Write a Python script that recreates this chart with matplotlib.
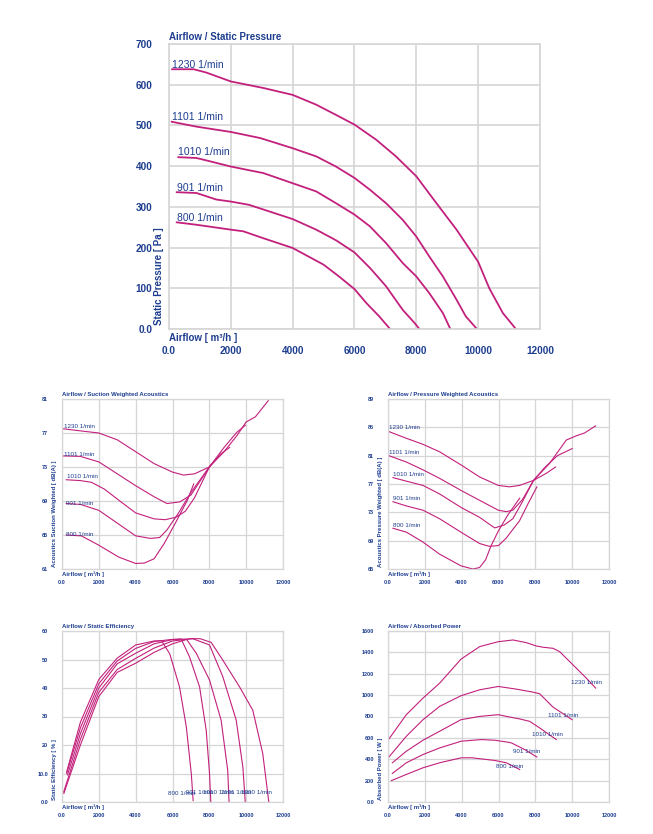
import numpy as np
import matplotlib
matplotlib.use("Agg")
import matplotlib.pyplot as plt

plt.rcParams['font.family'] = ['Liberation Sans', 'DejaVu Sans']

speeds = ['1230 1/min', '1101 1/min', '1010 1/min', '901 1/min', '800 1/min']

# Airflow / Static Pressure
pres_x = [[100, 800, 1200, 2000, 3050, 4000, 4760, 5500, 6000, 6700, 7340, 8000, 8650, 9300, 10000, 10360, 10800, 11220],
          [90, 890, 2000, 2950, 4000, 4760, 5400, 6000, 6500, 7020, 7560, 8000, 8420, 8860, 9300, 9600, 9960],
          [300, 890, 1320, 2000, 3050, 4000, 4760, 5400, 6000, 6500, 7020, 7560, 8000, 8420, 8860, 9100],
          [250, 890, 1530, 2000, 2590, 4000, 4760, 5400, 6000, 6500, 7020, 7560, 7940, 8100],
          [250, 890, 2000, 2400, 3050, 4000, 5000, 5500, 6000, 6380, 6800, 7150]]
pres_y = [[638, 638, 630, 608, 592, 575, 551, 522, 502, 465, 424, 375, 309, 244, 165, 100, 39, 0],
          [509, 497, 484, 469, 444, 424, 399, 371, 342, 309, 268, 227, 178, 129, 72, 31, 0],
          [422, 420, 412, 399, 383, 358, 338, 309, 281, 252, 211, 162, 129, 88, 39, 0],
          [336, 334, 318, 313, 305, 270, 244, 218, 188, 150, 105, 47, 15, 0],
          [262, 256, 244, 240, 223, 199, 158, 129, 98, 64, 31, 0]]
pres_lab_x = [100, 90, 300, 250, 250]
pres_lab_y = [649, 521, 434, 346, 272]

# Airflow / Suction Weighted Acoustics
suc_x = [[50, 1000, 2000, 3000, 4000, 5000, 6000, 6600, 7200, 8000, 8800, 9500, 10000, 10500, 11200],
         [50, 1000, 2000, 3000, 4000, 5000, 5700, 6400, 7000, 8000, 8800, 9500, 9950],
         [230, 1000, 1600, 2300, 3200, 4000, 5000, 5600, 6200, 6700, 7200, 8000, 8600, 9100],
         [230, 1000, 2000, 3000, 4000, 4800, 5300, 5700, 6300, 7000, 7500, 8000, 8100],
         [230, 1050, 2000, 3080, 4000, 4470, 5000, 5550, 6180, 6810, 7150]]
suc_y = [[77.5, 77.25, 77.0, 76.2, 74.8, 73.4, 72.4, 72.05, 72.2, 73.0, 74.8, 76.7, 78.3, 78.9, 80.8],
         [74.3, 74.25, 73.6, 72.2, 70.8, 69.5, 68.7, 68.9, 69.7, 73.0, 75.3, 77.1, 77.9],
         [71.5, 71.4, 71.2, 70.4, 68.9, 67.6, 66.9, 66.8, 67.1, 67.8, 69.4, 73.0, 74.5, 75.3],
         [68.7, 68.6, 67.9, 66.4, 64.9, 64.6, 64.7, 65.6, 67.5, 70.0, 71.5, 73.0, 73.3],
         [65.0, 64.9, 63.8, 62.4, 61.65, 61.7, 62.2, 64.0, 66.5, 69.1, 71.0]]
suc_lab_x = [90, 90, 290, 230, 230]
suc_lab_y = [77.8, 74.5, 71.9, 68.7, 65.0]

# Airflow / Pressure Weighted Acoustics
pwa_x = [[50, 1000, 1900, 2800, 3960, 4970, 5990, 6600, 7140, 7900, 8770, 9680, 10220, 10670, 11270],
         [50, 1000, 1900, 2800, 3960, 4970, 5990, 6420, 6780, 7300, 7900, 8500, 9200, 10000],
         [270, 1000, 1900, 2800, 3960, 4970, 5790, 6300, 6780, 7300, 7900, 8590, 9100],
         [270, 1000, 1900, 2800, 3960, 4970, 5500, 5990, 6400, 7140, 7600, 8085],
         [270, 1000, 1900, 2800, 3960, 4600, 4970, 5300, 5600, 6000, 6500, 7150]]
pwa_y = [[84.4, 83.45, 82.6, 81.55, 79.7, 78.0, 76.8, 76.6, 76.8, 77.5, 79.9, 83.2, 83.8, 84.2, 85.2],
         [81.0, 80.1, 79.0, 77.8, 76.1, 74.7, 73.3, 73.1, 73.3, 74.8, 77.5, 79.3, 81.0, 82.0],
         [77.9, 77.4, 76.8, 75.6, 73.7, 72.3, 70.8, 71.2, 72.1, 74.5, 77.5, 78.5, 79.4],
         [74.5, 73.9, 73.3, 72.1, 70.2, 68.6, 68.2, 68.3, 69.3, 71.8, 74.2, 76.6],
         [70.75, 70.2, 68.8, 67.1, 65.45, 65.0, 65.2, 66.3, 68.3, 70.4, 72.6, 75.0]]
pwa_lab_x = [50, 50, 270, 270, 270]
pwa_lab_y = [85.0, 81.4, 78.3, 75.0, 71.2]

# Airflow / Static Efficiency
eff_x = [[100, 1000, 2000, 3000, 4000, 5000, 6000, 6900, 7500, 8100, 8730, 9640, 10360, 10900, 11230],
         [90, 1000, 2000, 3000, 4000, 5000, 6000, 7100, 8010, 8730, 9460, 9820, 9950],
         [300, 1000, 2000, 3000, 4000, 5000, 6000, 6750, 7290, 8010, 8640, 9000, 9070],
         [250, 1000, 2000, 3000, 4000, 5000, 5900, 6470, 6920, 7470, 7830, 8010, 8080],
         [250, 1000, 2000, 3000, 4000, 5000, 5400, 5850, 6380, 6750, 7020, 7120]]
eff_y = [[3.0, 20, 37, 45.5, 48.7, 52.5, 55.5, 57.3, 57.3, 56, 49.8, 40.4, 32.2, 17, 0],
         [3.5, 22, 38.5, 46.5, 50.4, 54, 56.5, 57.3, 55.1, 44, 28.7, 12.3, 0],
         [9.5, 24, 40, 48.5, 52.2, 55.5, 57.0, 57.2, 52.2, 42.8, 28.7, 11, 0],
         [10, 26, 41.5, 49.5, 53.9, 56.3, 57.0, 57.2, 51, 40.4, 25.2, 10, 0],
         [10.5, 28, 43, 50.5, 55.1, 56.5, 56.6, 52, 40.4, 26.4, 10, 0.5]]
eff_lab_x = [9735, 8650, 7650, 6750, 5735]
eff_lab_y = [3.3, 3.3, 3.3, 3.3, 3.0]

# Airflow / Absorbed Power
pow_x = [[54, 540, 995, 1900, 2805, 3960, 4980, 5990, 6790, 7510, 8050, 8420, 8960, 9320, 10045, 10770, 11275],
         [54, 995, 1900, 2805, 3960, 4980, 5990, 6970, 7870, 8235, 8960, 10000],
         [235, 995, 1900, 2805, 3960, 4980, 5990, 6610, 7150, 7690, 8235, 9140],
         [235, 995, 1900, 2805, 3980, 5070, 5790, 6430, 6700, 7420, 8080],
         [185, 995, 1900, 2805, 3960, 4530, 5790, 6425, 7150]]
pow_y = [[590, 708, 817, 972, 1112, 1336, 1454, 1500, 1516, 1491, 1460, 1448, 1438, 1407, 1283, 1159, 1066],
         [422, 615, 770, 895, 994, 1050, 1081, 1056, 1028, 1013, 888, 770],
         [367, 475, 578, 662, 770, 801, 817, 795, 777, 755, 693, 584],
         [267, 367, 444, 506, 569, 584, 578, 562, 553, 491, 421],
         [200, 258, 320, 367, 413, 414, 389, 367, 304]]
pow_lab_x = [9955, 8688, 7837, 6787, 5846]
pow_lab_y = [1118, 811, 631, 469, 335]

x_ticks = [0, 2000, 4000, 6000, 8000, 10000, 12000]
x_ticklabels = ['0.0', '2000', '4000', '6000', '8000', '10000', '12000']

BLUE = '#1d3d8f'
LINE = '#c2207c'
GRID = '#d6d6d6'

fig = plt.figure(figsize=(6.53, 8.34), dpi=100)


def setup(ax, title, ylabel, yticks, yticklabels, big=False):
    fs_tick = 7.2 if big else 4.0
    fs_title = 7.0 if big else 4.3
    pad = 12 if big else 8
    ax.set_xlim(0, 12000)
    ax.set_ylim(yticks[0], yticks[-1])
    ax.set_xticks(x_ticks)
    ax.set_xticklabels(x_ticklabels)
    ax.set_yticks(yticks)
    ax.set_yticklabels(yticklabels)
    ax.tick_params(length=0, labelsize=fs_tick, labelcolor=BLUE, pad=pad)
    ax.tick_params(axis='y', pad=pad + (0 if big else 2))
    for t in ax.get_xticklabels() + ax.get_yticklabels():
        t.set_fontweight('bold')
    ax.grid(True, color=GRID, lw=1.2 if big else 0.9)
    ax.set_axisbelow(True)
    for s in ax.spines.values():
        s.set_color(GRID)
        s.set_linewidth(1.2 if big else 0.9)
    ax.text(0, 1.025, title, transform=ax.transAxes, fontsize=fs_title,
            fontweight='bold', color=BLUE, ha='left', va='center')
    ax.text(0, -0.032, 'Airflow [ m³/h ]', transform=ax.transAxes, fontsize=fs_title,
            fontweight='bold', color=BLUE, ha='left', va='center')
    ax.text(-0.026 if big else -0.034, 0.014, ylabel, transform=ax.transAxes,
            fontsize=fs_title, fontweight='bold', color=BLUE, rotation=90,
            ha='center', va='bottom')


def curves(ax, xs, ys, lw):
    for x, y in zip(xs, ys):
        ax.plot(x, y, color=LINE, lw=lw, solid_joinstyle='round')


# top chart
ax = fig.add_axes([169/653, 1-329/834, 371/653, 285/834])
setup(ax, 'Airflow / Static Pressure', 'Static Pressure [ Pa ]',
      list(range(0, 701, 100)), ['0.0'] + [str(v) for v in range(100, 701, 100)], big=True)
curves(ax, pres_x, pres_y, 1.3)
for s, lx, ly in zip(speeds, pres_lab_x, pres_lab_y):
    ax.text(lx, ly, s, fontsize=7.5, color=BLUE, ha='left', va='center')

# suction acoustics
ax = fig.add_axes([62/653, 1-569/834, 221/653, 170/834])
setup(ax, 'Airflow / Suction Weighted Acoustics', 'Acoustics Suction Weighted [ dB(A) ]',
      [61, 65, 69, 73, 77, 81], ['61', '65', '69', '73', '77', '81'])
curves(ax, suc_x, suc_y, 0.8)
for s, lx, ly in zip(speeds, suc_lab_x, suc_lab_y):
    ax.text(lx, ly, s, fontsize=4.5, color=BLUE, ha='left', va='center')

# pressure acoustics
ax = fig.add_axes([388/653, 1-569/834, 221/653, 170/834])
setup(ax, 'Airflow / Pressure Weighted Acoustics', 'Acoustics Pressure Weighted [ dB(A) ]',
      [65, 69, 73, 77, 81, 85, 89], ['65', '69', '73', '77', '81', '85', '89'])
curves(ax, pwa_x, pwa_y, 0.8)
for s, lx, ly in zip(speeds, pwa_lab_x, pwa_lab_y):
    ax.text(lx, ly, s, fontsize=4.5, color=BLUE, ha='left', va='center')

# efficiency
ax = fig.add_axes([62/653, 1-802/834, 221/653, 171/834])
setup(ax, 'Airflow / Static Efficiency', 'Static Efficiency [ % ]',
      [0, 10, 20, 30, 40, 50, 60], ['0.0', '10.0', '20', '30', '40', '50', '60'])
curves(ax, eff_x, eff_y, 0.8)
for s, lx, ly in zip(speeds, eff_lab_x, eff_lab_y):
    ax.text(lx, ly, s, fontsize=4.5, color=BLUE, ha='left', va='center')

# absorbed power
ax = fig.add_axes([388/653, 1-802/834, 221/653, 171/834])
setup(ax, 'Airflow / Absorbed Power', 'Absorbed Power [ W ]',
      list(range(0, 1601, 200)), ['0.0'] + [str(v) for v in range(200, 1601, 200)])
curves(ax, pow_x, pow_y, 0.8)
for s, lx, ly in zip(speeds, pow_lab_x, pow_lab_y):
    ax.text(lx, ly, s, fontsize=4.5, color=BLUE, ha='left', va='center')

fig.savefig('out.png', dpi=100, facecolor='white')
